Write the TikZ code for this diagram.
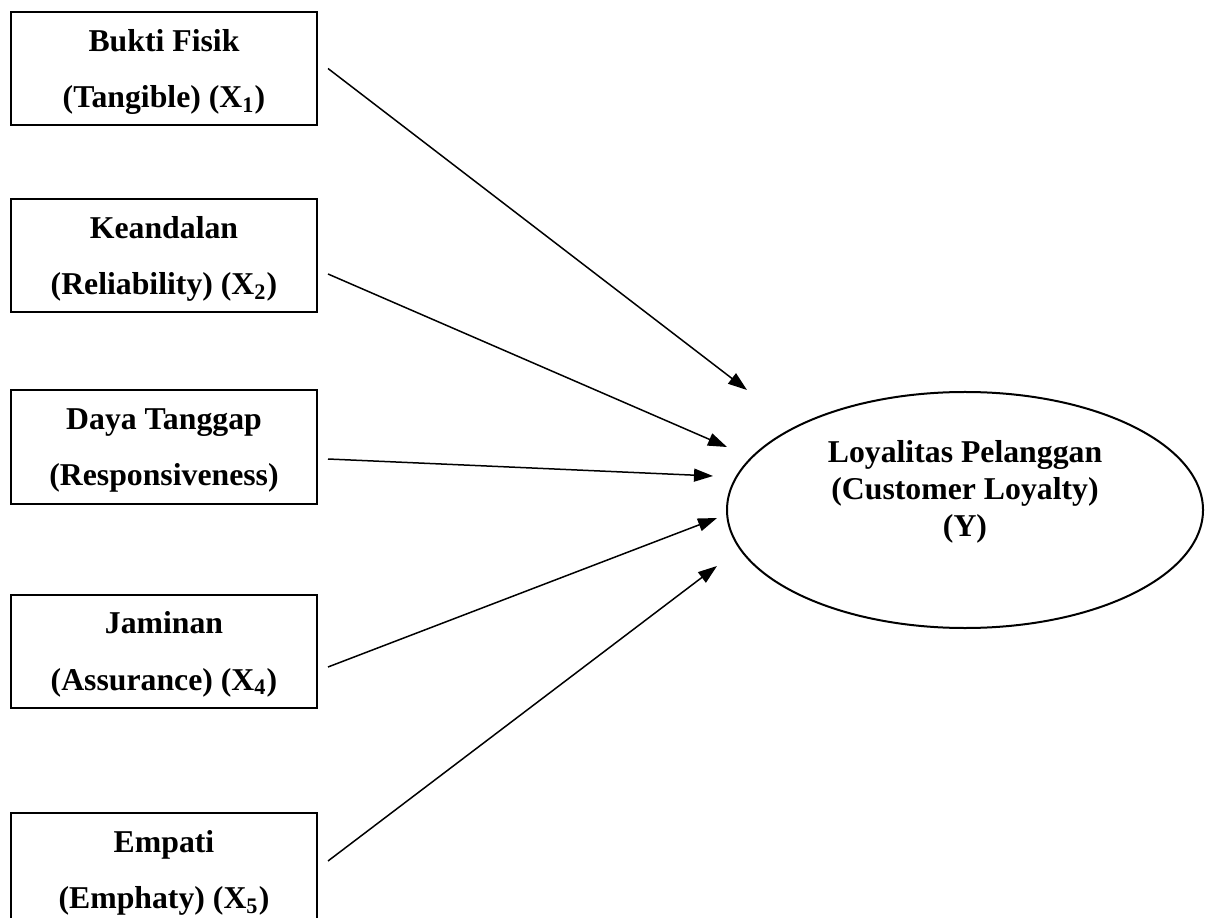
\documentclass[tikz,border=0pt]{standalone}
\usepackage{fontspec}
\setmainfont{Liberation Serif}
\usetikzlibrary{shapes.geometric,arrows.meta}
\tikzset{
	box/.style={draw,line width=0.8pt,minimum width=122.4pt,minimum height=45.2pt,align=center,text depth=0pt,font=\bfseries\fontsize{12.7}{22.5}\selectfont},
	oval/.style={draw,ellipse,line width=0.8pt,minimum width=190.4pt,minimum height=94.4pt,inner sep=0pt},
	arr/.style={line width=0.6pt,-{Triangle[length=7.6pt,width=5.2pt]}}
}
\begin{document}
\begin{tikzpicture}[x=0.4pt,y=-0.4pt]
	\useasboundingbox (0,0) rectangle (1212,918);
	\node[box](b1) at (164,68.5) {Bukti Fisik\\(Tangible) (X\textsubscript{1})};
	\node[box](b2) at (164,255.5) {Keandalan\\(Reliability) (X\textsubscript{2})};
	\node[box](b3) at (164,447) {Daya Tanggap\\(Responsiveness)};
	\node[box](b4) at (164,651) {Jaminan\\(Assurance) (X\textsubscript{4})};
	\node[box](b5) at (164,869.5) {Empati\\(Emphaty) (X\textsubscript{5})};
	\node[oval](y) at (965,510) {};
	\node[align=center,font=\bfseries\fontsize{12.7}{14.8}\selectfont](ytext) at (965,492) {Loyalitas Pelanggan\\(Customer Loyalty)\\(Y)};
	\coordinate(t1) at (747,390);
	\coordinate(t2) at (727,447);
	\coordinate(t3) at (713,476);
	\coordinate(t4) at (717,518);
	\coordinate(t5) at (717,566);
	\draw[arr] ([shift={(10,0)}]b1.east) -- (t1);
	\draw[arr] ([shift={(10,18.5)}]b2.east) -- (t2);
	\draw[arr] ([shift={(10,12)}]b3.east) -- (t3);
	\draw[arr] ([shift={(10,16)}]b4.east) -- (t4);
	\draw[arr] ([shift={(10,-8.5)}]b5.east) -- (t5);
\end{tikzpicture}
\end{document}
